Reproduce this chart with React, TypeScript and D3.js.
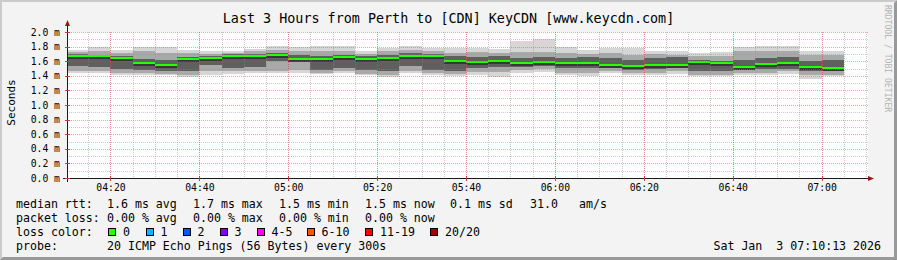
import React from "react";
import * as d3 from "d3";

// ---------- data ----------
const title = "Last 3 Hours from Perth to [CDN] KeyCDN [www.keycdn.com]";
// end times of each 5-minute step (Sat Jan 3 2026)
const stepEnds = [
  "04:15", "04:20", "04:25", "04:30", "04:35", "04:40", "04:45", "04:50", "04:55", "05:00",
  "05:05", "05:10", "05:15", "05:20", "05:25", "05:30", "05:35", "05:40", "05:45", "05:50",
  "05:55", "06:00", "06:05", "06:10", "06:15", "06:20", "06:25", "06:30", "06:35", "06:40",
  "06:45", "06:50", "06:55", "07:00", "07:05",
];
// values in milliseconds
const medianMs = [
  1.67, 1.67, 1.645, 1.58, 1.55, 1.63, 1.645, 1.67, 1.67, 1.69,
  1.635, 1.635, 1.662, 1.634, 1.648, 1.677, 1.677, 1.607, 1.589, 1.607,
  1.575, 1.589, 1.575, 1.578, 1.552, 1.538, 1.553, 1.549, 1.589, 1.578,
  1.523, 1.566, 1.575, 1.523, 1.507,
];
const maxMs = [
  1.749, 1.79, 1.749, 1.79, 1.79, 1.758, 1.736, 1.744, 1.767, 1.804,
  1.79, 1.804, 1.804, 1.744, 1.781, 1.804, 1.781, 1.781, 1.777, 1.763,
  1.877, 1.9, 1.79, 1.753, 1.777, 1.777, 1.744, 1.744, 1.712, 1.726,
  1.79, 1.804, 1.804, 1.744, 1.744,
];
const p90Ms = [
  1.726, 1.744, 1.712, 1.736, 1.712, 1.712, 1.699, 1.712, 1.736, 1.758,
  1.744, 1.736, 1.736, 1.699, 1.736, 1.758, 1.736, 1.712, 1.73, 1.716,
  1.73, 1.73, 1.708, 1.699, 1.716, 1.685, 1.699, 1.689, 1.667, 1.667,
  1.736, 1.736, 1.744, 1.689, 1.689,
];
const p75Ms = [
  1.699, 1.689, 1.667, 1.634, 1.621, 1.653, 1.667, 1.699, 1.699, 1.712,
  1.681, 1.667, 1.689, 1.667, 1.681, 1.712, 1.699, 1.667, 1.662, 1.671,
  1.64, 1.662, 1.64, 1.662, 1.64, 1.616, 1.64, 1.653, 1.621, 1.607,
  1.621, 1.644, 1.653, 1.599, 1.621,
];
const p25Ms = [
  1.53, 1.516, 1.497, 1.484, 1.462, 1.462, 1.552, 1.507, 1.516, 1.599,
  1.589, 1.484, 1.507, 1.484, 1.462, 1.53, 1.484, 1.462, 1.503, 1.525,
  1.525, 1.534, 1.503, 1.503, 1.516, 1.479, 1.489, 1.507, 1.462, 1.462,
  1.484, 1.497, 1.497, 1.462, 1.462,
];
const p10Ms = [
  1.462, 1.462, 1.438, 1.438, 1.425, 1.415, 1.462, 1.462, 1.462, 1.47,
  1.484, 1.438, 1.462, 1.425, 1.415, 1.462, 1.438, 1.425, 1.456, 1.456,
  1.479, 1.489, 1.442, 1.442, 1.47, 1.442, 1.442, 1.462, 1.415, 1.415,
  1.438, 1.438, 1.462, 1.407, 1.415,
];
const minMs = [
  1.434, 1.434, 1.407, 1.415, 1.407, 1.379, 1.407, 1.425, 1.438, 1.438,
  1.438, 1.425, 1.438, 1.407, 1.379, 1.438, 1.407, 1.393, 1.411, 1.388,
  1.442, 1.456, 1.411, 1.397, 1.434, 1.411, 1.411, 1.425, 1.393, 1.393,
  1.415, 1.407, 1.425, 1.36, 1.393,
];
const yMajorTicks = [0, 0.2, 0.4, 0.6, 0.8, 1.0, 1.2, 1.4, 1.6, 1.8, 2.0];
const yMinorTicks = [0.1, 0.3, 0.5, 0.7, 0.9, 1.1, 1.3, 1.5, 1.7, 1.9];
const rttStats = ["1.6 ms avg", "1.7 ms max", "1.5 ms min", "1.5 ms now"];
const rttExtra = ["0.1 ms sd", "31.0", "am/s"];
const lossStats = ["0.00 % avg", "0.00 % max", "0.00 % min", "0.00 % now"];
const lossLabels = ["0", "1", "2", "3", "4-5", "6-10", "11-19", "20/20"];
const lossColors = ["#26ff00", "#00b8ff", "#0059ff", "#7e00ff", "#ff00ff", "#ff5500", "#ff0000", "#a10000"];
const probeText = "20 ICMP Echo Pings (56 Bytes) every 300s";
const dateText = "Sat Jan\u00a0\u00a03 07:10:13 2026";

// ---------- layout ----------
const W = 897;
const H = 260;
const X0 = 67;
const X1 = 867;
const Y0 = 178;
const Y1 = 32;
const FONT = "'DejaVu Sans Mono', monospace";
const statX = [107, 193, 279, 365];
const extraX = [450, 530, 579];
const boxX = [108, 145.5, 182.5, 219.5, 256.5, 306.5, 365, 430];
const rowY = [208.3, 222, 235.8, 249.5];

const tStart = new Date(2026, 0, 3, 4, 10, 13);
const tEnd = new Date(2026, 0, 3, 7, 10, 13);
const parseT = (s: string) => {
  const [h, m] = s.split(":").map(Number);
  return new Date(2026, 0, 3, h, m, 0);
};

export default function App() {
  const x = d3.scaleTime().domain([tStart, tEnd]).range([X0, X1]);
  const y = d3.scaleLinear().domain([0, 2.0]).range([Y0, Y1]);
  const fmt = d3.timeFormat("%H:%M");
  const minorX = x.ticks(d3.timeMinute.every(5) as any);
  const majorX = x.ticks(d3.timeMinute.every(20) as any);

  const cols = stepEnds.map((s, i) => {
    const end = parseT(s);
    const start = d3.timeMinute.offset(end, -5);
    const xa = Math.max(X0 + 1, Math.round(x(start)));
    const xb = Math.min(X1, Math.round(x(end)));
    return { xa, xb, i };
  });

  const band = (lo: number[], hi: number[], fill: string, key: string) =>
    cols.map((c) => {
      const ya = Math.round(y(hi[c.i]));
      const yb = Math.round(y(lo[c.i]));
      return <rect key={key + c.i} x={c.xa} y={ya} width={c.xb - c.xa} height={yb - ya} fill={fill} />;
    });

  return (
    <svg
      width={W}
      height={H}
      style={{ position: "absolute", left: 0, top: 0, display: "block" }}
      fontFamily={FONT}
    >
      <rect x={0} y={0} width={W} height={H} fill="#f3f3f3" />
      {/* frame */}
      <polygon points={`0,0 ${W},0 ${W - 2},2 2,2 2,${H - 2} 0,${H}`} fill="#cbcbcb" />
      <polygon points={`0,${H} ${W},${H} ${W},0 ${W - 3},3 ${W - 3},${H - 3} 3,${H - 3}`} fill="#999999" />

      {/* canvas */}
      <rect x={X0} y={Y1} width={X1 - X0 + 1} height={Y0 - Y1} fill="#ffffff" />

      {/* smoke */}
      {band(minMs, maxMs, "#d6d6d6", "a")}
      {band(p10Ms, p90Ms, "#a9a9a9", "b")}
      {band(p25Ms, p75Ms, "#5f5f5f", "c")}
      {cols.map((c) => {
        const ym = Math.round(y(medianMs[c.i]));
        return <rect key={"dk" + c.i} x={c.xa} y={ym + 1} width={c.xb - c.xa} height={2} fill="#383838" />;
      })}
      {cols.map((c) => {
        const ym = Math.round(y(medianMs[c.i]));
        return <rect key={"m" + c.i} x={c.xa} y={ym - 1} width={c.xb - c.xa} height={2} fill="#26ff00" />;
      })}

      {/* grid */}
      <g shapeRendering="crispEdges" strokeDasharray="1 1" strokeWidth={1}>
        {yMinorTicks.map((v) => (
          <line key={"ym" + v} x1={X0} x2={X1 + 1} y1={Math.round(y(v)) + 0.5} y2={Math.round(y(v)) + 0.5} stroke="rgba(140,140,140,0.45)" />
        ))}
        {minorX.map((t, i) => (
          <line key={"xm" + i} x1={Math.round(x(t)) + 0.5} x2={Math.round(x(t)) + 0.5} y1={Y1} y2={Y0} stroke="rgba(140,140,140,0.45)" />
        ))}
        {yMajorTicks.filter((v) => v > 0).map((v) => (
          <line key={"yM" + v} x1={X0} x2={X1 + 1} y1={Math.round(y(v)) + 0.5} y2={Math.round(y(v)) + 0.5} stroke="rgba(230,60,60,0.45)" />
        ))}
        {majorX.map((t, i) => (
          <line key={"xM" + i} x1={Math.round(x(t)) + 0.5} x2={Math.round(x(t)) + 0.5} y1={Y1} y2={Y0} stroke="rgba(230,60,60,0.45)" />
        ))}
      </g>

      {/* axes */}
      <g shapeRendering="crispEdges" stroke="#1a1a1a" strokeWidth={1}>
        <line x1={X0 - 4} x2={X1 + 1} y1={Y0 + 0.5} y2={Y0 + 0.5} />
        <line x1={X0 + 0.5} x2={X0 + 0.5} y1={Y0 + 4} y2={Y1 - 6} />
        {majorX.map((t, i) => (
          <line key={"tk" + i} x1={Math.round(x(t)) + 0.5} x2={Math.round(x(t)) + 0.5} y1={Y0 - 2} y2={Y0 + 3} stroke="#c04040" />
        ))}
        {yMajorTicks.map((v) => (
          <line key={"ytk" + v} x1={X0 - 2} x2={X0 + 3} y1={Math.round(y(v)) + 0.5} y2={Math.round(y(v)) + 0.5} stroke="#c04040" />
        ))}
      </g>
      <polygon points={`${X1 + 1},${Y0 - 2} ${X1 + 7},${Y0 + 0.5} ${X1 + 1},${Y0 + 3}`} fill="#9a1414" />
      <polygon points={`${X0 - 2},${Y1 - 6} ${X0 + 0.5},${Y1 - 12} ${X0 + 3},${Y1 - 6}`} fill="#9a1414" />

      {/* axis labels */}
      <g fontSize={9.75} fill="#000">
        {yMajorTicks.map((v) => (
          <text key={"yl" + v} x={60} y={y(v) + 3.5} textAnchor="end">
            {v.toFixed(1) + " m"}
          </text>
        ))}
        {majorX.map((t, i) => (
          <text key={"xl" + i} x={x(t) + 0.5} y={191} textAnchor="middle">
            {fmt(t)}
          </text>
        ))}
      </g>
      <text x={14.5} y={102.5} fontSize={11} textAnchor="middle" transform="rotate(-90 14.5 102.5)">
        Seconds
      </text>

      {/* title */}
      <text x={W / 2} y={23} fontSize={13.4} textAnchor="middle">
        {title}
      </text>

      {/* watermark */}
      <text x={885} y={5} fontSize={8.1} fill="#b4b4b4" transform="rotate(90 885 5)">
        RRDTOOL / TOBI OETIKER
      </text>

      {/* legend */}
      <g fontSize={11.6} fill="#000">
        <text x={16} y={rowY[0]}>median rtt:</text>
        {rttStats.map((s, i) => (
          <text key={"r" + i} x={statX[i]} y={rowY[0]}>{s}</text>
        ))}
        {rttExtra.map((s, i) => (
          <text key={"re" + i} x={extraX[i]} y={rowY[0]}>{s}</text>
        ))}
        <text x={16} y={rowY[1]}>packet loss:</text>
        {lossStats.map((s, i) => (
          <text key={"l" + i} x={statX[i]} y={rowY[1]}>{s}</text>
        ))}
        <text x={16} y={rowY[2]}>loss color:</text>
        {lossLabels.map((s, i) => (
          <g key={"lc" + i}>
            <rect x={boxX[i] + 0.5} y={228.5} width={7} height={7} fill={lossColors[i]} stroke="#000" strokeWidth={1} shapeRendering="crispEdges" />
            <text x={boxX[i] + 15} y={rowY[2]}>{s}</text>
          </g>
        ))}
        <text x={16} y={rowY[3]}>probe:</text>
        <text x={107} y={rowY[3]}>{probeText}</text>
        <text x={881} y={rowY[3]} textAnchor="end">{dateText}</text>
      </g>
    </svg>
  );
}
